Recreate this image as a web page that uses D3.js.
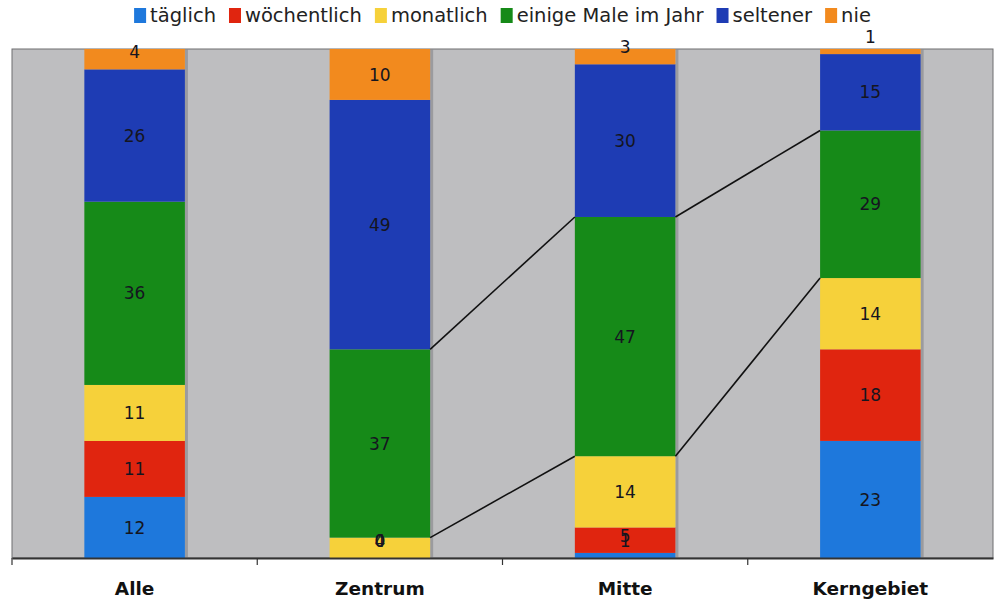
<!DOCTYPE html>
<html><head><meta charset="utf-8">
<script src="https://cdn.jsdelivr.net/npm/d3@7"></script>
<style>body{margin:0;background:#fff;} svg{display:block;}</style>
</head><body>
<svg id="chart" width="995" height="605"></svg>
<script>
const categories = ["Alle", "Zentrum", "Mitte", "Kerngebiet"];
const seriesNames = ["täglich", "wöchentlich", "monatlich", "einige Male im Jahr", "seltener", "nie"];
const taeglich    = [12, 0, 1, 23];
const woechentlich = [11, 0, 5, 18];
const monatlich   = [11, 4, 14, 14];
const einigeMale  = [36, 37, 47, 29];
const seltener    = [26, 49, 30, 15];
const nie         = [4, 10, 3, 1];
const seriesColors = ["#1e78dc", "#e0250f", "#f6d13a", "#168a18", "#1e3cb4", "#f28a1e"];
const seriesLinePairs = [["Zentrum", "Mitte"], ["Mitte", "Kerngebiet"]];
const seriesLineKeys = ["monatlich", "einige Male im Jahr"];

const values = [taeglich, woechentlich, monatlich, einigeMale, seltener, nie];
const rows = categories.map((c, i) => {
  const r = {cat: c};
  seriesNames.forEach((s, j) => r[s] = values[j][i]);
  return r;
});
const stack = d3.stack().keys(seriesNames)(rows);

const svg = d3.select("#chart");
const L = 12, R = 993, T = 49, B = 558;
const x = d3.scaleBand().domain(categories).range([L, R]).paddingInner(0.59).paddingOuter(0.295);
const y = d3.scaleLinear().domain([0, 100]).range([B, T]);
const step = x.step();
const bw = x.bandwidth();

// plot area
svg.append("rect").attr("x", L).attr("y", T).attr("width", R - L).attr("height", B - T)
  .attr("fill", "#bebec0").attr("stroke", "#6e6e70").attr("stroke-width", 1);

// bar shadows
svg.append("g").selectAll("rect").data(categories).join("rect")
  .attr("x", d => x(d) + bw).attr("y", y(100)).attr("width", 3).attr("height", B - y(100))
  .attr("fill", "#8c8c90").attr("opacity", 0.7);

// bars
const layers = svg.append("g").selectAll("g").data(stack).join("g")
  .attr("fill", (d, i) => seriesColors[i]);
layers.selectAll("rect").data(d => d).join("rect")
  .attr("x", d => x(d.data.cat)).attr("width", bw)
  .attr("y", d => y(d[1])).attr("height", d => y(d[0]) - y(d[1]));

// series lines
const lineG = svg.append("g").attr("stroke", "#111").attr("stroke-width", 1.6);
seriesLineKeys.forEach(k => {
  const layer = stack.find(s => s.key === k);
  seriesLinePairs.forEach(([a, b]) => {
    const da = layer[categories.indexOf(a)], db = layer[categories.indexOf(b)];
    lineG.append("line")
      .attr("x1", x(a) + bw).attr("y1", y(da[1]))
      .attr("x2", x(b)).attr("y2", y(db[1]));
  });
});

// value labels
const labG = svg.append("g").attr("font-family", "DejaVu Sans, Verdana, sans-serif")
  .attr("font-size", 17).attr("fill", "#151520").attr("text-anchor", "middle");
stack.forEach(layer => {
  layer.forEach(d => {
    const cy = Math.min((y(d[0]) + y(d[1])) / 2, y(d[0]) - 17);
    labG.append("text").attr("x", x(d.data.cat) + bw / 2).attr("y", cy)
      .attr("dy", "0.36em").text(d[1] - d[0]);
  });
});

// x axis
const axG = svg.append("g").attr("transform", `translate(0,${B})`)
  .call(d3.axisBottom(x).tickSize(0).tickPadding(24));
axG.select(".domain").attr("stroke", "#333").attr("stroke-width", 2);
axG.selectAll("text").attr("font-family", "DejaVu Sans, Verdana, sans-serif")
  .attr("font-weight", "bold").attr("font-size", 18.5).attr("fill", "#111");
axG.selectAll(".bound").data(d3.range(categories.length)).join("line")
  .attr("x1", i => L + i * step).attr("x2", i => L + i * step)
  .attr("y1", 0).attr("y2", 7).attr("stroke", "#333").attr("stroke-width", 1.2);

// legend
const lg = svg.append("g").attr("font-family", "DejaVu Sans, Verdana, sans-serif").attr("font-size", 19.5);
let cx = 0;
const gap = 13;
seriesNames.forEach((s, i) => {
  const g = lg.append("g");
  g.append("rect").attr("x", 0).attr("y", -14).attr("width", 12).attr("height", 15).attr("fill", seriesColors[i]);
  const t = g.append("text").attr("x", 16).attr("y", 0).attr("fill", "#222").text(s);
  const w = 16 + t.node().getComputedTextLength();
  g.attr("transform", `translate(${cx},0)`);
  cx += w + gap;
});
const totalW = cx - gap;
lg.attr("transform", `translate(${(L + R) / 2 - totalW / 2},22)`);
</script>
</body></html>
